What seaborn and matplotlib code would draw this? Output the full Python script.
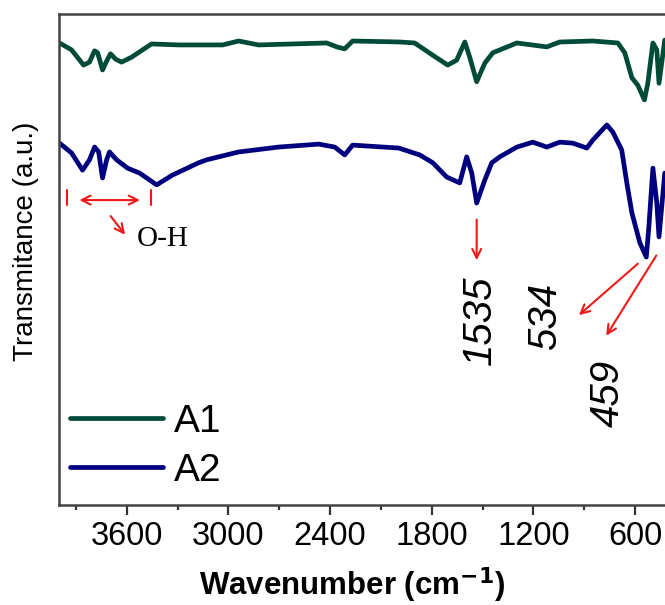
import numpy as np
import pandas as pd
import matplotlib
matplotlib.use("Agg")
import matplotlib.pyplot as plt
import seaborn as sns

# FTIR spectra (wavenumber in cm^-1, transmittance in arbitrary units)
a1_wn = [3997, 3926, 3855, 3820, 3790, 3772, 3743, 3719, 3696, 3666, 3631, 3572,
         3454, 3294, 3034, 2940, 2822, 2420, 2361, 2314, 2267, 1989, 1901, 1794,
         1706, 1653, 1605, 1576, 1535, 1487, 1440, 1298, 1121, 1045, 850, 702,
         661, 619, 584, 545, 525, 495, 472, 459, 425]
a1_t = [94.1, 92.7, 89.6, 90.2, 92.5, 92.1, 88.6, 90.4, 91.9, 90.8, 90.2, 91.2,
        93.9, 93.7, 93.7, 94.5, 93.7, 94.1, 93.3, 92.9, 94.5, 94.3, 94.1, 91.6,
        89.6, 90.6, 94.3, 91.2, 86.2, 90.0, 92.1, 94.1, 93.3, 94.3, 94.5, 94.1,
        92.1, 87.0, 85.5, 82.5, 85.9, 94.1, 92.7, 85.9, 94.7]

a2_wn = [3997, 3926, 3861, 3820, 3790, 3766, 3743, 3719, 3702, 3660, 3595, 3524,
         3424, 3330, 3176, 3129, 2940, 2704, 2467, 2373, 2314, 2267, 1995, 1871,
         1794, 1712, 1635, 1594, 1564, 1535, 1487, 1446, 1399, 1298, 1204, 1121,
         1045, 968, 885, 850, 767, 732, 679, 649, 619, 572, 534, 519, 495, 472,
         459, 425]
a2_t = [73.7, 71.7, 68.2, 70.3, 72.9, 71.9, 66.6, 70.3, 71.9, 70.3, 68.6, 67.6,
        65.2, 67.2, 69.7, 70.3, 71.9, 72.9, 73.5, 72.9, 71.3, 73.3, 72.7, 71.3,
        69.7, 66.8, 65.6, 70.9, 67.6, 61.5, 66.2, 69.7, 70.9, 72.9, 73.9, 72.9,
        73.9, 73.7, 72.7, 74.3, 77.4, 76.0, 72.3, 65.6, 59.5, 53.4, 50.5, 56.6,
        68.6, 61.5, 54.6, 67.6]

samples = ["A1", "A2"]
colors = ["#004B37", "#00007F"]
x_ticks = [3600, 3000, 2400, 1800, 1200, 600]

df = pd.concat([
    pd.DataFrame({"wn": a1_wn, "T": a1_t, "sample": "A1"}),
    pd.DataFrame({"wn": a2_wn, "T": a2_t, "sample": "A2"}),
], ignore_index=True)

sns.set_style("ticks")
plt.rcParams["font.family"] = ["Liberation Sans", "DejaVu Sans"]
plt.rcParams["text.color"] = "black"
plt.rcParams["axes.labelcolor"] = "black"
plt.rcParams["xtick.labelcolor"] = "black"

fig = plt.figure(figsize=(6.65, 6.05), dpi=100)
ax = fig.add_axes([59 / 665, 1 - 505 / 605, 610 / 665, 491 / 605])

sns.lineplot(data=df, x="wn", y="T", hue="sample", hue_order=samples,
             palette=colors, estimator=None, linewidth=3.4, ax=ax)

ax.set_xlim(4000, 400)
ax.set_ylim(0, 100)
ax.set_xticks(x_ticks)
ax.set_xticks(np.arange(3900, 300, -600), minor=True)
ax.set_yticks([])
ax.tick_params(axis="x", which="major", direction="out", length=7, width=1.6,
               labelsize=23.5, pad=4.5, color="#333333", labelcolor="black")
ax.tick_params(axis="x", which="minor", direction="out", length=3.5, width=1.6,
               color="#333333")
for side in ["left", "top", "bottom"]:
    ax.spines[side].set_linewidth(1.8)
    ax.spines[side].set_color("#444444")
ax.spines["right"].set_visible(False)

ax.set_xlabel("Wavenumber (cm$^{\\mathbf{-1}}$)", fontsize=22.5, fontweight="bold",
              va="baseline", color="black")
ax.xaxis.set_label_coords((352 - 59) / 610, -(595 - 505) / 491)
ax.set_ylabel("Transmitance (a.u.)", fontsize=20, color="black")
ax.yaxis.set_label_coords(-0.032, (505 - 241) / 491)

handles, labels = ax.get_legend_handles_labels()
leg = ax.legend(handles, labels, loc="upper left", bbox_to_anchor=(0.018, 0.206),
                frameon=False, fontsize=28, handlelength=2.4, handletextpad=0.26,
                labelspacing=0.33, borderpad=0, borderaxespad=0)
for t in leg.get_texts():
    t.set_color("black")

red = "#F01818"
arrow = dict(arrowstyle="->", color=red, lw=1.5, mutation_scale=16)

# O-H stretching range
ax.plot([3955, 3955], [61.1, 64.2], color=red, lw=1.5)
ax.plot([3460, 3460], [61.1, 64.2], color=red, lw=1.5)
ax.annotate("", xy=(3896, 62.1), xytext=(3506, 62.1),
            arrowprops=dict(arrowstyle="<->", color=red, lw=1.5, mutation_scale=16))
ax.annotate("", xy=(3600, 54.6), xytext=(3706, 59.3), arrowprops=arrow)
ax.text(3541, 54.2, "O-H", fontsize=21, family="Liberation Serif",
        ha="left", va="center", color="black")

# band assignments
ax.annotate("", xy=(1535, 49.3), xytext=(1535, 58.7), arrowprops=arrow)
ax.text(1517, 37.7, "1535", fontsize=29, style="italic", rotation=90,
        ha="center", va="center", color="black")
ax.annotate("", xy=(944, 38.3), xytext=(572, 49.5), arrowprops=arrow)
ax.text(1132, 38.5, "534", fontsize=29, style="italic", rotation=90,
        ha="center", va="center", color="black")
ax.annotate("", xy=(779, 34.0), xytext=(466, 51.3), arrowprops=arrow)
ax.text(761, 22.8, "459", fontsize=29, style="italic", rotation=90,
        ha="center", va="center", color="black")

fig.savefig("out.png", dpi=100)
